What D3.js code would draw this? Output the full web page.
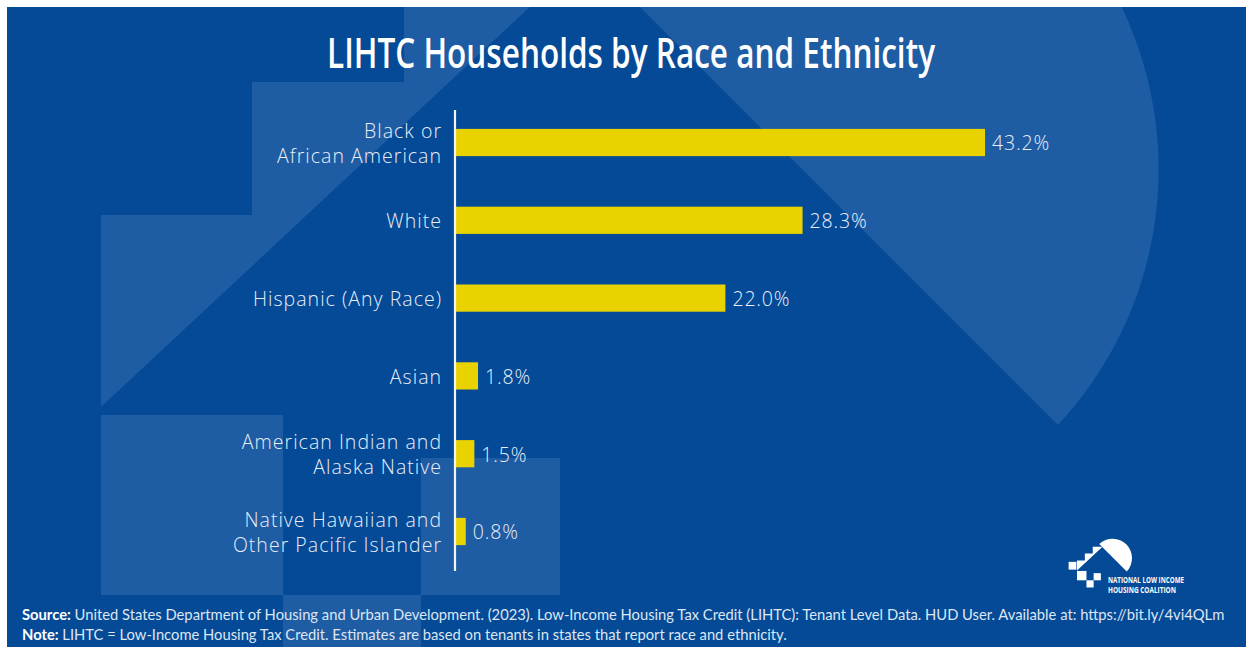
<!DOCTYPE html>
<html>
<head>
<meta charset="utf-8">
<script src="https://cdn.jsdelivr.net/npm/d3@7"></script>
<style>
  body { margin: 0; background: #fff; }
  svg { display: block; }
</style>
</head>
<body>
<div id="chart"></div>
<script>
// data
var labelLines = [
  ["Black or", "African American"],
  ["White"],
  ["Hispanic (Any Race)"],
  ["Asian"],
  ["American Indian and", "Alaska Native"],
  ["Native Hawaiian and", "Other Pacific Islander"]
];
var values = [43.2, 28.3, 22.0, 1.8, 1.5, 0.8];
var title = "LIHTC Households by Race and Ethnicity";
var sourceText = "United States Department of Housing and Urban Development. (2023). Low-Income Housing Tax Credit (LIHTC): Tenant Level Data. HUD User. Available at: https://bit.ly/4vi4QLm";
var noteText = "LIHTC = Low-Income Housing Tax Credit. Estimates are based on tenants in states that report race and ethnicity.";

var W = 1253, H = 654;
var dark = "#044a97", light = "#1e5ca4", yellow = "#e8d200";

var svg = d3.select("#chart").append("svg")
  .attr("width", W).attr("height", H);

svg.append("clipPath").attr("id", "frame")
  .append("rect").attr("x", 7).attr("y", 7).attr("width", 1239).attr("height", 640);

svg.append("rect").attr("x", 7).attr("y", 7).attr("width", 1239).attr("height", 640)
  .attr("fill", dark);

// house shapes (background, and again small for the logo)
function house(g, col){
  var stairs = [[101,407],[101,215],[252,215],[252,82],[404,82],[404,-51],[592,-51]];
  g.append("path").attr("d", "M" + stairs.join("L") + "Z").attr("fill", col);
  g.append("path").attr("d", "M528,-105 A375,375 0 0,1 1058,425 Z").attr("fill", col);
  var sq = [[101,415,182,180],[283,595,138,138],[421,458,139,137]];
  g.selectAll("rect.sq").data(sq).enter().append("rect").attr("class", "sq")
    .attr("x", d => d[0]).attr("y", d => d[1])
    .attr("width", d => d[2]).attr("height", d => d[3])
    .attr("fill", col);
}
var bg = svg.append("g").attr("clip-path", "url(#frame)");
house(bg, light);

// title
svg.append("text")
  .attr("x", 631).attr("y", 68)
  .attr("text-anchor", "middle")
  .attr("font-family", "Open Sans").attr("font-weight", 600)
  .attr("font-size", 41)
  .attr("fill", "#fff")
  .attr("textLength", 608).attr("lengthAdjust", "spacingAndGlyphs")
  .text(title);

// scales
var x = d3.scaleLinear().domain([0, 50]).range([456, 456 + 612.3]);
var y = d3.scaleBand().domain(d3.range(values.length))
  .range([103.6, 570.4]).paddingInner(0.65).paddingOuter(0.325);

svg.selectAll("rect.bar").data(values).enter().append("rect").attr("class", "bar")
  .attr("x", x(0))
  .attr("y", (d, i) => y(i))
  .attr("width", d => x(d) - x(0))
  .attr("height", y.bandwidth())
  .attr("fill", yellow);

svg.append("line")
  .attr("x1", 455).attr("x2", 455).attr("y1", 110).attr("y2", 571)
  .attr("stroke", "#f2f4f8").attr("stroke-width", 2.2);

var vals = svg.selectAll("text.val").data(values).enter().append("text").attr("class", "val")
  .attr("x", d => x(d) + 7)
  .attr("y", (d, i) => y(i) + y.bandwidth() / 2 + 1)
  .attr("dy", "0.35em")
  .attr("font-family", "Open Sans").attr("font-weight", 300).attr("font-size", 19.5)
  .attr("fill", "#e9eef7")
  .text(d => d.toFixed(1) + "%");
// widen to match "43.2%" ~58px
var vw = vals.node().getComputedTextLength();
vals.attr("letter-spacing", (58 - vw) / 5);

var lab = svg.selectAll("text.lab").data(labelLines).enter().append("text").attr("class", "lab")
  .attr("text-anchor", "end")
  .attr("font-family", "Open Sans").attr("font-weight", 300).attr("font-size", 19.5)
  .attr("fill", "#e9eef7");
lab.each(function(lines, i){
  var cy = y(i) + y.bandwidth() / 2;
  var t = d3.select(this);
  lines.forEach(function(l, k){
    t.append("tspan").attr("x", 441)
      .attr("y", cy + 1 + (k - (lines.length - 1) / 2) * 25)
      .attr("dy", "0.35em")
      .text(l);
  });
});
// "African American" is about 165px wide in the original
var aa = lab.filter((d, i) => i == 0).select("tspan:nth-child(2)").node().getComputedTextLength();
var ls = (165 - aa) / 16;
lab.attr("letter-spacing", ls);
lab.selectAll("tspan").attr("x", 441 + ls);

// footer
function footLine(yy, head, body){
  var t = svg.append("text").attr("x", 22).attr("y", yy)
    .attr("font-family", "Lato").attr("font-size", 13)
    .attr("fill", "#dde6f3");
  t.append("tspan").attr("font-weight", 700).attr("fill", "#fff").text(head);
  t.append("tspan").text(" " + body);
  return t;
}
var f1 = footLine(620, "Source:", sourceText);
var f2 = footLine(640, "Note:", noteText);
var fs = 13 * 1203 / f1.node().getComputedTextLength();
f1.attr("font-size", fs);
f2.attr("font-size", fs);

// logo
var logo = svg.append("g")
  .attr("transform", "translate(" + (1077 - 101 * 0.052) + "," + (583 - 647 * 0.052) + ") scale(0.052)");
house(logo, "#fff");
logo.append("rect").attr("x", -60).attr("y", 240).attr("width", 150).attr("height", 150).attr("fill", "#fff");
svg.append("text").attr("x", 1108).attr("y", 583)
  .attr("font-family", "Open Sans").attr("font-weight", 700).attr("font-size", 8.5)
  .attr("fill", "#fff").attr("textLength", 76).attr("lengthAdjust", "spacingAndGlyphs")
  .text("NATIONAL LOW INCOME");
svg.append("text").attr("x", 1108).attr("y", 593)
  .attr("font-family", "Open Sans").attr("font-weight", 700).attr("font-size", 8.5)
  .attr("fill", "#fff").attr("textLength", 68).attr("lengthAdjust", "spacingAndGlyphs")
  .text("HOUSING COALITION");
</script>
</body>
</html>
